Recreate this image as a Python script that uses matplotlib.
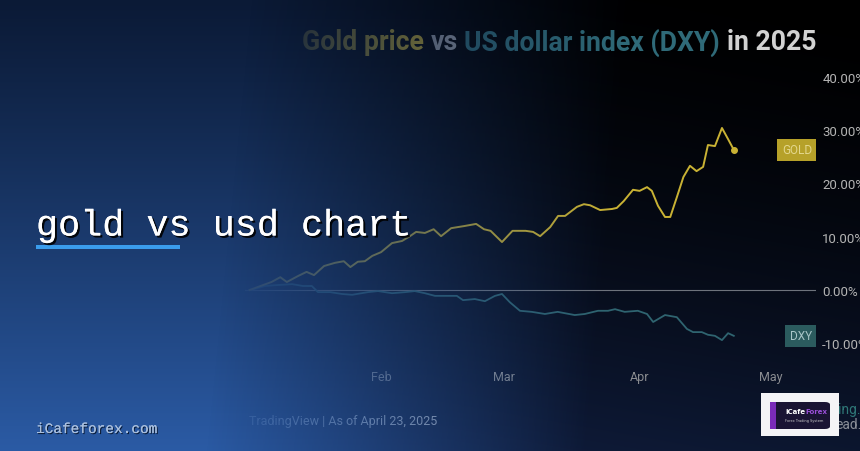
import numpy as np
import matplotlib
matplotlib.use('Agg')
import matplotlib.pyplot as plt
import matplotlib.patheffects as pe
from matplotlib.patches import Rectangle, FancyBboxPatch
from matplotlib.transforms import blended_transform_factory
from matplotlib.colors import to_rgb

# day of year (Jan 1 = 0) and change since start of year, %
gold_day = [1, 4, 6, 8, 9.5, 12, 14, 15.7, 18, 20.5, 22.5, 24, 25.7, 27.3, 29,
            31, 33.5, 35.8, 37.6, 39, 41, 43, 44.7, 47, 50, 52.7, 54.5, 56, 58.6, 61,
            64, 65.7, 67.3, 69.6, 71.4, 73, 75.7, 77.3, 78.7, 81, 83.7, 84.8, 86.4, 88.5, 90,
            91.7, 92.8, 94.2, 95.8, 97, 98.5, 100, 101.5, 103, 104.5, 105.6, 107.2, 108.8, 110.2, 111.5]
gold_pct = [0, 0.9, 1.5, 2.4, 1.5, 2.6, 3.4, 2.8, 4.5, 5.1, 5.4, 4.3, 5.3, 5.4, 6.4,
            7.1, 8.8, 9.2, 10.1, 10.9, 10.7, 11.4, 10.1, 11.6, 12.0, 12.4, 11.4, 11.1, 9.0, 11.1,
            11.1, 10.9, 10.1, 11.8, 13.9, 13.9, 15.6, 16.1, 15.9, 15.0, 15.2, 15.4, 16.7, 18.8, 18.6,
            19.3, 18.6, 15.8, 13.7, 13.7, 17.4, 21.2, 23.3, 22.3, 23.1, 27.2, 27.0, 30.4, 28.3, 26.3]
dxy_day = [1, 2.2, 4.5, 6.8, 10.7, 13.2, 15.2, 16.6, 19.4, 22.1, 24.4, 28, 30.3, 33.5, 36.5,
           38.7, 41, 43.3, 46.3, 48.3, 49.7, 52.4, 54.7, 57, 58.6, 60.4, 62.7, 65.4, 68.4, 71.3,
           75.2, 77.5, 80.5, 82.8, 84.4, 86.6, 89.6, 91.7, 93.1, 95.8, 98.5, 100.8, 102.2, 104.2,
           105.6, 107.2, 108.8, 110.2, 111.5]
dxy_pct = [0, 0.2, 0.75, 0.9, 1.1, 0.75, 0.75, -0.4, -0.4, -0.75, -0.9, -0.4, -0.2, -0.6, -0.4,
           -0.2, -0.6, -1.1, -1.1, -1.1, -1.9, -1.7, -2.1, -1.1, -0.75, -2.3, -3.9, -4.1, -4.5, -4.1,
           -4.7, -4.5, -3.9, -3.9, -3.6, -4.1, -3.9, -4.5, -6.0, -4.7, -5.1, -7.3, -7.9, -7.9,
           -8.4, -8.6, -9.4, -8.1, -8.6]
month_days = [31, 59, 90, 120]
month_labels = ['Feb', 'Mar', 'Apr', 'May']
y_ticks = [-10, 0, 10, 20, 30, 40]

W, H = 860, 452
GOLD = '#c9b234'
TEAL = '#2f6470'

fig = plt.figure(figsize=(W / 100, H / 100), dpi=100)

# base background (dark, a little navy at the bottom)
yy, xx = np.mgrid[0:H, 0:W]
t = np.clip(0.75 * yy / H + 0.25 * (1 - xx / W), 0, 1) ** 1.6
base = np.zeros((H, W, 3))
lo, hi = np.array(to_rgb('#000000')), np.array(to_rgb('#13234a'))
for c in range(3):
    base[..., c] = lo[c] + (hi[c] - lo[c]) * t
bg = fig.add_axes([0, 0, 1, 1], zorder=0)
bg.imshow(base, aspect='auto', extent=(0, W, H, 0))
bg.axis('off')

# chart
x0, x1 = 245.2, 816
ytop, ybot = 65, 365
px_day = 4.382
px_pct = 5.33
ax = fig.add_axes([x0 / W, 1 - ybot / H, (x1 - x0) / W, (ybot - ytop) / H], zorder=1)
ax.set_facecolor('none')
ax.set_xlim(0, (x1 - x0) / px_day)
ax.set_ylim((291 - ybot) / px_pct, (291 - ytop) / px_pct)
for s in ax.spines.values():
    s.set_visible(False)
ax.axhline(0, color='#6e737c', lw=0.8)
ax.plot(dxy_day, dxy_pct, color=TEAL, lw=1.3, solid_joinstyle='round')
ax.plot(gold_day, gold_pct, color=GOLD, lw=1.4, solid_joinstyle='round')
ax.plot(gold_day[-1], gold_pct[-1], 'o', color=GOLD, ms=4)
ax.set_xticks(month_days)
ax.set_xticklabels(month_labels)
ax.set_yticks(y_ticks)
ax.set_yticklabels([f'{v:.2f}%' for v in y_ticks])
ax.yaxis.tick_right()
ax.tick_params(length=0, labelsize=9.5, labelcolor='#b4b4b4', axis='y', pad=4.5)
ax.tick_params(length=0, labelsize=9, labelcolor='#8a8c90', axis='x', pad=4)
for lab in ax.get_xticklabels() + ax.get_yticklabels():
    lab.set_family('Roboto')

tr = blended_transform_factory(ax.transAxes, ax.transData)
ax.text(1 - 4 / (x1 - x0), gold_pct[-1], 'GOLD', transform=tr, ha='right', va='center',
        fontsize=8.5, family='Roboto', color='#e3d78c',
        bbox=dict(boxstyle='square,pad=0.38', fc='#b6a129', ec='none'))
ax.text(1 - 4 / (x1 - x0), dxy_pct[-1], 'DXY', transform=tr, ha='right', va='center',
        fontsize=8.5, family='Roboto', color='#a9c6c8',
        bbox=dict(boxstyle='square,pad=0.38', fc='#2b5b5e', ec='none'))

# multi-colour title, placed piece by piece
renderer = fig.canvas.get_renderer()
pieces = [('Gold price', GOLD), ('vs', '#9aa0aa'), ('US dollar index (DXY)', '#2f6a78'), ('in 2025', '#d2d2d2')]
tkw = dict(fontsize=19.2, family='Roboto', weight='bold', va='center', transform=fig.transFigure)
probe = fig.text(0, 0, 'x x', **tkw)
probe2 = fig.text(0, 0, 'xx', **tkw)
gap = (probe.get_window_extent(renderer).width - probe2.get_window_extent(renderer).width)
probe.remove(); probe2.remove()
xpos = 302
for txt, col in pieces:
    tt = ax.text(xpos / W, 1 - 43 / H, txt, color=col, **tkw)
    xpos += tt.get_window_extent(renderer).width + gap

ax.text(437 / W, 1 - 422 / H, 'TradingView | As of April 23, 2025', ha='right', va='center',
        fontsize=9, family='Roboto', color='#a8aeb8', transform=fig.transFigure)
ax.text(838 / W, 1 - 410 / H, 'ing.', ha='left', va='center', fontsize=10, family='Roboto',
        color='#2e7777', transform=fig.transFigure)
ax.text(835 / W, 1 - 425 / H, 'ead.', ha='left', va='center', fontsize=10, family='Roboto',
        color='#8a8f98', transform=fig.transFigure)

# blue fade over the left part
ov = fig.add_axes([0, 0, 1, 1], zorder=2)
ctop, cbot = np.array(to_rgb('#0b1a36')), np.array(to_rgb('#2b5ba5'))
over = np.zeros((H, W, 4))
fy = (yy / H) ** 1.1
for c in range(3):
    over[..., c] = ctop[c] + (cbot[c] - ctop[c]) * fy
a = np.clip((610 - xx - 0.1 * (yy - 226)) / 400, 0, 1)
over[..., 3] = np.clip(a * 1.05, 0, 1)
ov.imshow(over, aspect='auto', extent=(0, W, H, 0))
ov.axis('off')

# foreground texts
fig.text(36 / W, 1 - 227 / H, 'gold vs usd chart', fontsize=26.5, family='Liberation Mono',
         color='white', va='center', ha='left', zorder=5,
         path_effects=[pe.withSimplePatchShadow(offset=(1.5, -1.5), shadow_rgbFace='black', alpha=0.9),
                       pe.Normal()])
fig.patches.append(Rectangle((36 / W, 1 - 250 / H), 144 / W, 4 / H, transform=fig.transFigure,
                             fc='#3a9cec', ec='none', zorder=5))
fig.text(36 / W, 1 - 430 / H, 'iCafeforex.com', fontsize=10.4, family='Liberation Mono',
         color='#aac0de', va='center', ha='left', zorder=5,
         path_effects=[pe.withSimplePatchShadow(offset=(0.8, -0.8), shadow_rgbFace='#0a1a33', alpha=1),
                       pe.Normal()])

# logo badge
fig.patches.append(Rectangle((761 / W, 1 - 437 / H), 78 / W, 43 / H, transform=fig.transFigure,
                             fc='#f4f4f6', ec='none', zorder=5))
fig.patches.append(FancyBboxPatch((770 / W, 1 - 430 / H), 60 / W, 27 / H, transform=fig.transFigure,
                                  boxstyle='round,pad=0,rounding_size=0.006', fc='#1a1433', ec='none', zorder=6))
fig.patches.append(Rectangle((770 / W, 1 - 430 / H), 6 / W, 27 / H, transform=fig.transFigure,
                             fc='#7a2bb8', ec='none', zorder=6))
logo1 = fig.text(785 / W, 1 - 412 / H, 'iCafe', fontsize=5, weight='bold', color='white', zorder=7,
                 va='center', ha='left')
lx = 785 + logo1.get_window_extent(renderer).width + 0.5
fig.text(lx / W, 1 - 412 / H, 'Forex', fontsize=5, weight='bold', color='#9a4fd8', zorder=7,
         va='center', ha='left')
fig.text(785 / W, 1 - 421 / H, 'Forex Trading System', fontsize=2.5, color='#cccccc', zorder=7,
         va='center', ha='left')

fig.savefig('out.png', dpi=100)
